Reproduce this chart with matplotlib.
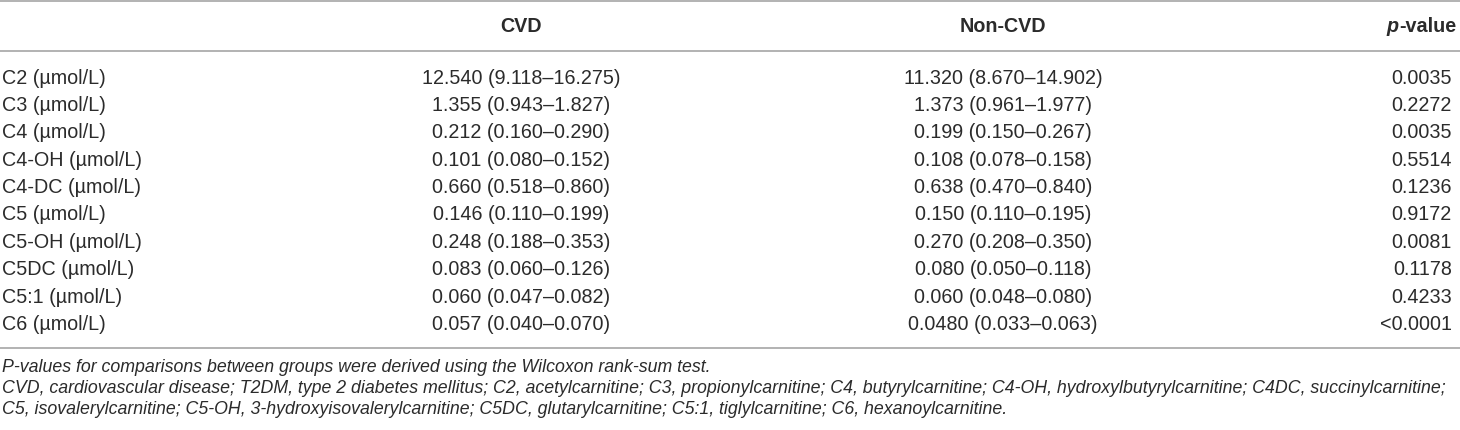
import matplotlib
matplotlib.use("Agg")
import matplotlib.pyplot as plt

analytes = ["C2 (\u00b5mol/L)", "C3 (\u00b5mol/L)", "C4 (\u00b5mol/L)", "C4-OH (\u00b5mol/L)",
            "C4-DC (\u00b5mol/L)", "C5 (\u00b5mol/L)", "C5-OH (\u00b5mol/L)", "C5DC (\u00b5mol/L)",
            "C5:1 (\u00b5mol/L)", "C6 (\u00b5mol/L)"]
cvd = ["12.540 (9.118\u201316.275)", "1.355 (0.943\u20131.827)", "0.212 (0.160\u20130.290)",
       "0.101 (0.080\u20130.152)", "0.660 (0.518\u20130.860)", "0.146 (0.110\u20130.199)",
       "0.248 (0.188\u20130.353)", "0.083 (0.060\u20130.126)", "0.060 (0.047\u20130.082)",
       "0.057 (0.040\u20130.070)"]
non_cvd = ["11.320 (8.670\u201314.902)", "1.373 (0.961\u20131.977)", "0.199 (0.150\u20130.267)",
           "0.108 (0.078\u20130.158)", "0.638 (0.470\u20130.840)", "0.150 (0.110\u20130.195)",
           "0.270 (0.208\u20130.350)", "0.080 (0.050\u20130.118)", "0.060 (0.048\u20130.080)",
           "0.0480 (0.033\u20130.063)"]
p_values = ["0.0035", "0.2272", "0.0035", "0.5514", "0.1236", "0.9172", "0.0081",
            "0.1178", "0.4233", "<0.0001"]
headers = ["CVD", "Non-CVD"]
footnotes = [
    "P-values for comparisons between groups were derived using the Wilcoxon rank-sum test.",
    "CVD, cardiovascular disease; T2DM, type 2 diabetes mellitus; C2, acetylcarnitine; C3, propionylcarnitine; "
    "C4, butyrylcarnitine; C4-OH, hydroxylbutyrylcarnitine; C4DC, succinylcarnitine;",
    "C5, isovalerylcarnitine; C5-OH, 3-hydroxyisovalerylcarnitine; C5DC, glutarylcarnitine; C5:1, tiglylcarnitine; "
    "C6, hexanoylcarnitine.",
]

W, H = 1460, 430
fig = plt.figure(figsize=(W / 100, H / 100), dpi=100)
ax = fig.add_axes([0, 0, 1, 1])
ax.set_xlim(0, W)
ax.set_ylim(H, 0)
ax.axis("off")

FONT = "Liberation Sans"
TXT = "#2b2b2b"
LINE = "#adadad"
fs = 14.2
fs_foot = 12.8

x_left, x_cvd, x_non, x_p, x_ph = 2, 521, 1003, 1452, 1456
header_base = 32.5
row_base0, row_step = 83.5, 27.4

for y in (1.2, 51, 348):
    ax.plot([0, W], [y, y], color=LINE, lw=1.3, solid_capstyle="butt")

ax.text(x_cvd, header_base, headers[0], ha="center", va="baseline", fontsize=fs,
        fontweight="bold", family=FONT, color=TXT)
ax.text(x_non, header_base, headers[1], ha="center", va="baseline", fontsize=fs,
        fontweight="bold", family=FONT, color=TXT)
tv = ax.text(x_ph, header_base, "-value", ha="right", va="baseline", fontsize=fs,
             fontweight="bold", family=FONT, color=TXT)
fig.canvas.draw()
bb = tv.get_window_extent(renderer=fig.canvas.get_renderer())
x_p_left = ax.transData.inverted().transform((bb.x0, 0))[0]
ax.text(x_p_left, header_base, "p", ha="right", va="baseline", fontsize=fs,
        fontweight="bold", fontstyle="italic", family=FONT, color=TXT)

for i, (a, c, n, p) in enumerate(zip(analytes, cvd, non_cvd, p_values)):
    yb = row_base0 + i * row_step
    ax.text(x_left, yb, a, ha="left", va="baseline", fontsize=fs, family=FONT, color=TXT)
    ax.text(x_cvd, yb, c, ha="center", va="baseline", fontsize=fs, family=FONT, color=TXT)
    ax.text(x_non, yb, n, ha="center", va="baseline", fontsize=fs, family=FONT, color=TXT)
    ax.text(x_p, yb, p, ha="right", va="baseline", fontsize=fs, family=FONT, color=TXT)

foot_base = [372, 393, 414]
for yb, t in zip(foot_base, footnotes):
    ax.text(x_left, yb, t, ha="left", va="baseline", fontsize=fs_foot, fontstyle="italic",
            family=FONT, color=TXT)

fig.savefig("out.png", dpi=100)
